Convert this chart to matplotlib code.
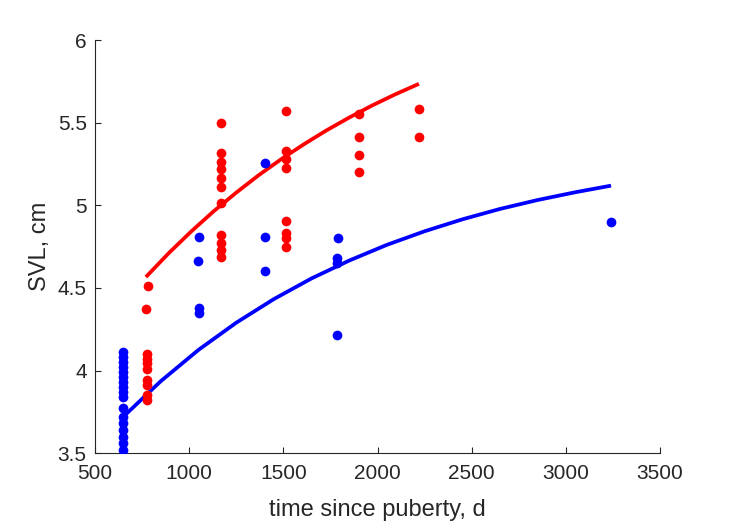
import matplotlib
matplotlib.use("Agg")
import matplotlib.pyplot as plt

# Blue group observations
blue_x = [650]*17 + [1050, 1045, 1050, 1050] + [1400, 1400, 1400] + [1790, 1785, 1785, 1785] + [3240]
blue_y = [4.115, 4.084, 4.054, 4.024, 3.994, 3.963, 3.933, 3.903, 3.873, 3.842,
          3.772, 3.721, 3.681, 3.641, 3.600, 3.560, 3.520,
          4.810, 4.665, 4.379, 4.349,
          5.258, 4.810, 4.603,
          4.804, 4.680, 4.649, 4.216,
          4.901]

# Red group observations
red_x = [780, 770] + [775]*8 + [1170]*11 + [1515]*8 + [1900]*4 + [2220]*2
red_y = [4.512, 4.373, 4.101, 4.071, 4.046, 4.010, 3.944, 3.914, 3.853, 3.822,
         5.496, 5.315, 5.264, 5.218, 5.167, 5.109, 5.012, 4.820, 4.774, 4.729, 4.686,
         5.571, 5.331, 5.279, 5.228, 4.907, 4.835, 4.801, 4.750,
         5.553, 5.412, 5.305, 5.200,
         5.581, 5.415]

# Fitted growth curves
blue_curve_x = [650, 850, 1050, 1250, 1450, 1650, 1850, 2050, 2250, 2450, 2650, 2850, 3050, 3240]
blue_curve_y = [3.721, 3.937, 4.126, 4.290, 4.433, 4.558, 4.666, 4.761, 4.843, 4.915, 4.978, 5.032, 5.079, 5.119]
red_curve_x = [770, 890, 1010, 1130, 1250, 1370, 1490, 1610, 1730, 1850, 1970, 2090, 2220]
red_curve_y = [4.566, 4.709, 4.841, 4.964, 5.077, 5.183, 5.280, 5.370, 5.454, 5.531, 5.603, 5.669, 5.735]

xticks = [500, 1000, 1500, 2000, 2500, 3000, 3500]
yticks = [3.5, 4, 4.5, 5, 5.5, 6]
ytick_labels = ["3.5", "4", "4.5", "5", "5.5", "6"]

plt.rcParams['font.family'] = ['Liberation Sans', 'DejaVu Sans']

fig = plt.figure(figsize=(7.29, 5.21), dpi=100)
ax = fig.add_axes([95/729, 1 - 453.3/521, (660 - 95)/729, (453.3 - 40)/521])

ax.plot(blue_curve_x, blue_curve_y, color=(0, 0, 1), lw=2.7, solid_capstyle='butt', zorder=2)
ax.plot(red_curve_x, red_curve_y, color=(1, 0, 0), lw=2.7, solid_capstyle='butt', zorder=2)
ax.plot(blue_x, blue_y, 'o', color=(0, 0, 1), ms=7, mec='none', zorder=3)
ax.plot(red_x, red_y, 'o', color=(1, 0, 0), ms=7, mec='none', zorder=3)

ax.set_xlim(500, 3500)
ax.set_ylim(3.5, 6)
ax.set_xticks(xticks)
ax.set_yticks(yticks)
ax.set_yticklabels(ytick_labels)

for s in ['top', 'right']:
    ax.spines[s].set_visible(False)
for s in ['left', 'bottom']:
    ax.spines[s].set_color((0.15, 0.15, 0.15))
    ax.spines[s].set_linewidth(0.8)
ax.tick_params(direction='in', length=4, width=0.8, colors=(0.15, 0.15, 0.15), labelsize=15)
ax.tick_params(axis='x', pad=8)
ax.tick_params(axis='y', pad=6)

ax.set_xlabel("time since puberty, d", fontsize=17, color=(0.15, 0.15, 0.15), labelpad=11)
ax.set_ylabel("SVL, cm", fontsize=17, color=(0.15, 0.15, 0.15), labelpad=5)

fig.savefig("out.png", dpi=100)
